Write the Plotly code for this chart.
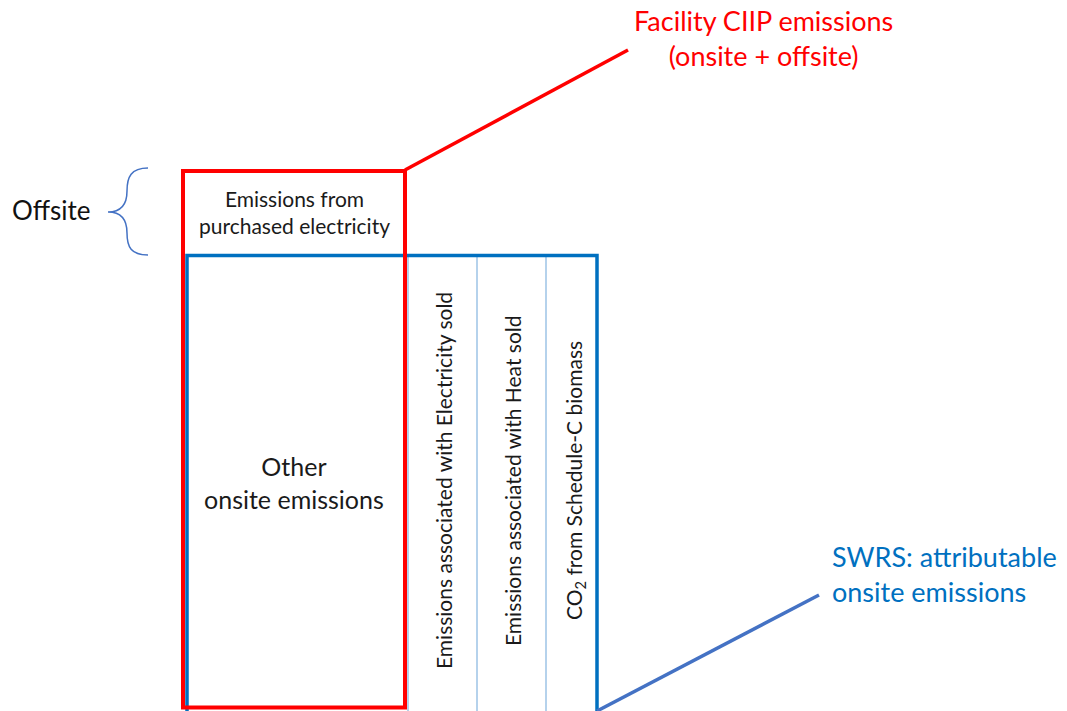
import plotly.graph_objects as go

# Diagram content
box_labels = ["Emissions from<br>purchased electricity", "Other<br>onsite emissions"]
column_labels = ["Emissions associated with Electricity sold",
                 "Emissions associated with Heat sold",
                 "CO<sub>2</sub> from Schedule-C biomass"]
callout_red = "Facility CIIP emissions<br>(onsite + offsite)"
callout_blue = "SWRS: attributable<br>onsite emissions"
side_label = "Offsite"

RED = "#FF0000"
BLUE = "#0070C0"
LIGHT = "#9DC3E6"
LINEBLUE = "#4472C4"
FONT = "Lato"

fig = go.Figure()
fig.add_trace(go.Scatter(x=[0, 1067], y=[0, 711], mode="markers",
                         marker=dict(opacity=0), hoverinfo="skip", showlegend=False))

shapes = []
# thin column dividers
for xv in [408, 477, 546]:
    shapes.append(dict(type="line", x0=xv, x1=xv, y0=255, y1=715,
                       line=dict(color=LIGHT, width=1.5)))
# blue SWRS box (open at bottom)
shapes.append(dict(type="path", path="M 187 715 L 187 255.5 L 597 255.5 L 597 715",
                   line=dict(color=BLUE, width=3.5)))
# red CIIP box
shapes.append(dict(type="rect", x0=183, x1=405, y0=171, y1=707.5,
                   line=dict(color=RED, width=4)))
# callout lines
shapes.append(dict(type="line", x0=405, y0=170, x1=628, y1=50,
                   line=dict(color=RED, width=3.5)))
shapes.append(dict(type="line", x0=597, y0=711, x1=819, y1=595,
                   line=dict(color=LINEBLUE, width=3.5)))
# brace
shapes.append(dict(type="path",
                   path="M 148 168 C 131 168, 127 177, 127 191 C 127 205, 121 212, 108 212 "
                        "C 121 212, 127 219, 127 233 C 127 247, 131 255, 148 255",
                   line=dict(color=LINEBLUE, width=1.5)))

ann = []
ann.append(dict(x=294, y=212, text=box_labels[0], font=dict(size=21, color="#1a1a1a", family=FONT),
                showarrow=False, align="center"))
ann.append(dict(x=294, y=482, text=box_labels[1], font=dict(size=25, color="#1a1a1a", family=FONT),
                showarrow=False, align="center"))
for xv, t in zip([443, 512, 575], column_labels):
    ann.append(dict(x=xv, y=481, text=t, textangle=-90,
                    font=dict(size=21, color="#1a1a1a", family=FONT), showarrow=False))
ann.append(dict(x=763, y=38, text=callout_red, font=dict(size=27, color=RED, family=FONT),
                showarrow=False, align="center"))
ann.append(dict(x=830, y=574, text=callout_blue, font=dict(size=27, color=BLUE, family=FONT),
                showarrow=False, align="left", xanchor="left"))
ann.append(dict(x=10, y=210, text=side_label, font=dict(size=26, color="#111", family=FONT),
                showarrow=False, xanchor="left"))

fig.update_layout(
    width=1067, height=711, margin=dict(l=0, r=0, t=0, b=0),
    paper_bgcolor="white", plot_bgcolor="white",
    xaxis=dict(range=[0, 1067], visible=False, fixedrange=True),
    yaxis=dict(range=[711, 0], visible=False, fixedrange=True),
    shapes=shapes, annotations=ann, showlegend=False,
)
fig.write_html("out.html", config={"displayModeBar": False},
               post_script="document.body.style.margin='0';")
